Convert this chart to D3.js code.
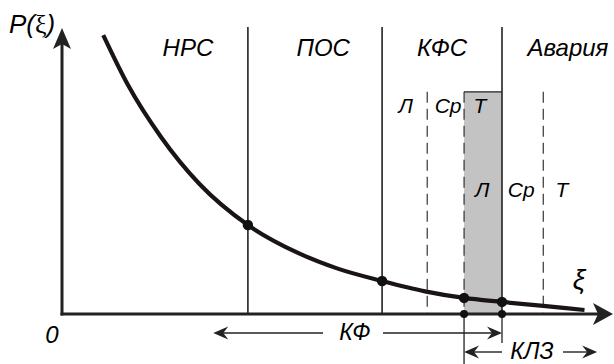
<!DOCTYPE html>
<html>
<head>
<meta charset="utf-8">
<script src="https://cdn.jsdelivr.net/npm/d3@7"></script>
<style>
  html, body { margin: 0; padding: 0; background: #fff; }
  svg { display: block; }
  text { font-family: "Liberation Sans", Arial, sans-serif; font-style: italic; fill: #000; }
</style>
</head>
<body>
<script>
// Probability curve P(ξ) and operating zones
const curveXi = [0.75, 1.2, 1.8, 2.5, 3.38, 4.3, 5.0, 5.82, 6.6, 7.31, 8.0, 8.75, 9.5];
const curveP  = [0.972, 0.798, 0.617, 0.453, 0.310, 0.212, 0.159, 0.115, 0.079, 0.056, 0.042, 0.028, 0.014];

// Zone boundaries (solid) and labels
const zoneBounds = [3.38, 5.82, 8.0];
const zoneLabels = ["НРС", "ПОС", "КФС", "Авария"];
const zoneLabelXi = [2.29, 4.75, 6.91, 9.2];

// Sub-zone boundaries (dashed) and the shaded band
const subBounds = [6.64, 7.31, 8.75];
const subTop = 0.774;
const band = [7.31, 8.0];

// Sub-zone labels: upper row and lower row
const subLabelsTop = ["Л", "Ср", "Т"];
const subLabelsTopXi = [6.25, 7.02, 7.6];
const subLabelsBottom = ["Л", "Ср", "Т"];
const subLabelsBottomXi = [7.64, 8.35, 9.09];

// Marked points on the curve
const markXi = [3.38, 5.82, 7.31, 8.0];

// Range arrows under the axis
const kfSpan = [2.75, 8.0];
const klzSpan = [7.31, 9.73];

const W = 614, H = 364;
const svg = d3.select("body").append("svg").attr("width", W).attr("height", H);

const x = d3.scaleLinear().domain([0, 10]).range([62, 612]);
const y = d3.scaleLinear().domain([0, 1]).range([314, 27]);

const pAt = xi => curveP[curveXi.indexOf(xi)];

// shaded band
svg.append("rect")
  .attr("x", x(band[0])).attr("y", y(subTop))
  .attr("width", x(band[1]) - x(band[0])).attr("height", y(0) - y(subTop))
  .attr("fill", "#c3c3c3");
svg.append("line")
  .attr("x1", x(band[0])).attr("x2", x(band[1]))
  .attr("y1", y(subTop)).attr("y2", y(subTop))
  .attr("stroke", "#222").attr("stroke-width", 1.3);

// dashed sub-zone lines
svg.selectAll("line.sub").data(subBounds).join("line")
  .attr("class", "sub")
  .attr("x1", d => x(d)).attr("x2", d => x(d))
  .attr("y1", y(subTop)).attr("y2", y(0))
  .attr("stroke", "#222").attr("stroke-width", 1.1)
  .attr("stroke-dasharray", "11,6");

// solid zone boundaries
svg.selectAll("line.zone").data(zoneBounds).join("line")
  .attr("class", "zone")
  .attr("x1", d => x(d)).attr("x2", d => x(d))
  .attr("y1", y(1)).attr("y2", y(0))
  .attr("stroke", "#222").attr("stroke-width", 1.6);

// zone labels
svg.selectAll("text.zone").data(zoneLabels).join("text")
  .attr("class", "zone")
  .attr("x", (d, i) => x(zoneLabelXi[i])).attr("y", 56)
  .attr("text-anchor", "middle").attr("font-size", 24)
  .text(d => d);

// sub-zone labels
svg.selectAll("text.subTop").data(subLabelsTop).join("text")
  .attr("class", "subTop")
  .attr("x", (d, i) => x(subLabelsTopXi[i])).attr("y", 113)
  .attr("text-anchor", "middle").attr("font-size", 21)
  .text(d => d);
svg.selectAll("text.subBottom").data(subLabelsBottom).join("text")
  .attr("class", "subBottom")
  .attr("x", (d, i) => x(subLabelsBottomXi[i])).attr("y", 197)
  .attr("text-anchor", "middle").attr("font-size", 21)
  .text(d => d);

// axes
svg.append("line")
  .attr("x1", x(0)).attr("x2", x(0)).attr("y1", y(0) + 1.5).attr("y2", y(1) + 14)
  .attr("stroke", "#222").attr("stroke-width", 3);
svg.append("line")
  .attr("x1", x(0) - 1.5).attr("x2", x(10) - 14).attr("y1", y(0)).attr("y2", y(0))
  .attr("stroke", "#222").attr("stroke-width", 3);
// arrowheads
const tipY = y(1) + 1;
svg.append("path")
  .attr("d", `M${x(0)},${tipY} L${x(0) + 9},${tipY + 21} L${x(0)},${tipY + 16} L${x(0) - 9},${tipY + 21} Z`)
  .attr("fill", "#222");
const tipX = x(10) + 1;
svg.append("path")
  .attr("d", `M${tipX},${y(0)} L${tipX - 20},${y(0) - 11} L${tipX - 15},${y(0)} L${tipX - 20},${y(0) + 11} Z`)
  .attr("fill", "#222");

// curve
const line = d3.line()
  .x((d, i) => x(curveXi[i])).y(d => y(d))
  .curve(d3.curveMonotoneX);
svg.append("path")
  .attr("d", line(curveP))
  .attr("fill", "none").attr("stroke", "#1a1414").attr("stroke-width", 4.2)
  .attr("stroke-linecap", "butt");

// marked points
svg.selectAll("circle.mark").data(markXi).join("circle")
  .attr("class", "mark")
  .attr("cx", d => x(d)).attr("cy", d => y(pAt(d)))
  .attr("r", 5.2).attr("fill", "#111");

// drop lines below the axis
svg.append("line")
  .attr("x1", x(klzSpan[0])).attr("x2", x(klzSpan[0]))
  .attr("y1", y(0)).attr("y2", H)
  .attr("stroke", "#222").attr("stroke-width", 1.3);
svg.append("line")
  .attr("x1", x(kfSpan[1])).attr("x2", x(kfSpan[1]))
  .attr("y1", y(0)).attr("y2", 343)
  .attr("stroke", "#222").attr("stroke-width", 1.3);
svg.selectAll("circle.base").data([klzSpan[0], kfSpan[1]]).join("circle")
  .attr("class", "base")
  .attr("cx", d => x(d)).attr("cy", y(0))
  .attr("r", 4).attr("fill", "#111");

// range arrows
function arrowHead(tx, ty, dir) {
  // dir: -1 pointing left, +1 pointing right
  const L = 15, w = 6.5, n = 10;
  return `M${tx},${ty} L${tx - dir * L},${ty - w} L${tx - dir * n},${ty} L${tx - dir * L},${ty + w} Z`;
}
function rangeArrow(span, yy, label, gap0, gap1, labelX) {
  const a = x(span[0]), b = x(span[1]);
  svg.append("line").attr("x1", a + 6).attr("x2", gap0).attr("y1", yy).attr("y2", yy)
    .attr("stroke", "#222").attr("stroke-width", 1.4);
  svg.append("line").attr("x1", gap1).attr("x2", b - 6).attr("y1", yy).attr("y2", yy)
    .attr("stroke", "#222").attr("stroke-width", 1.4);
  svg.append("path").attr("d", arrowHead(a, yy, -1)).attr("fill", "#222");
  svg.append("path").attr("d", arrowHead(b, yy, 1)).attr("fill", "#222");
  svg.append("text").attr("x", labelX).attr("y", yy + 7)
    .attr("text-anchor", "middle").attr("font-size", 23).text(label);
}
rangeArrow(kfSpan, 333, "КФ", 323, 383, 355);
rangeArrow(klzSpan, 352, "КЛЗ", 502, 563, 532);

// axis labels
svg.append("text").attr("x", x(0) - 10).attr("y", 343)
  .attr("text-anchor", "middle").attr("font-size", 24).text("0");

const pl = svg.append("text").attr("x", 9).attr("y", 33).attr("font-size", 26);
pl.append("tspan").text("P(");
pl.append("tspan").attr("font-family", "'Liberation Serif', serif").attr("font-style", "normal").text("ξ");
pl.append("tspan").text(")");

svg.append("text").attr("x", 579).attr("y", 289)
  .attr("text-anchor", "middle").attr("font-size", 28)
  .attr("font-family", "'Liberation Serif', serif").attr("font-style", "normal")
  .text("ξ");
</script>
</body>
</html>
